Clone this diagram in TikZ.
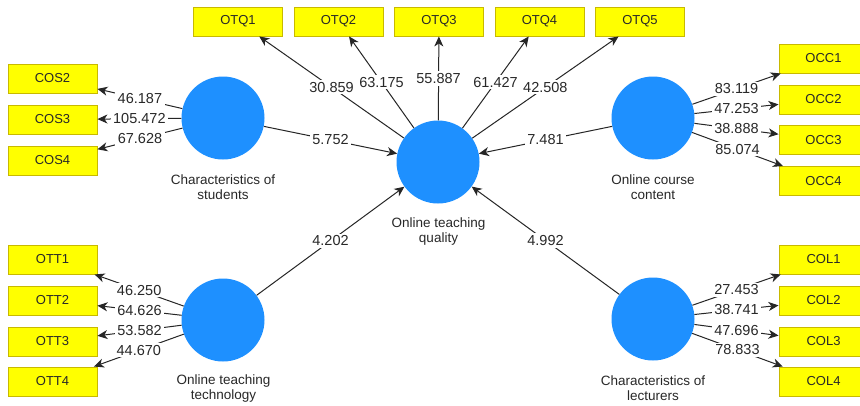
\documentclass[tikz,border=0pt]{standalone}
\usepackage{fontspec}
\setmainfont{Liberation Sans}
\usetikzlibrary{arrows.meta}
\definecolor{lvblue}{RGB}{30,144,255}
\definecolor{boxyellow}{RGB}{255,255,0}
\definecolor{boxedge}{RGB}{200,185,0}
\definecolor{txt}{RGB}{40,40,40}
\begin{document}
\begin{tikzpicture}[x=1pt,y=-1pt,
 latent/.style={circle,fill=lvblue,minimum size=83pt,inner sep=0pt},
 indic/.style={rectangle,fill=boxyellow,draw=boxedge,line width=0.9pt,minimum width=89pt,minimum height=29pt,inner sep=0pt,font=\fontsize{13}{15}\selectfont,text=txt},
 lvcap/.style={align=center,font=\fontsize{13.5}{15}\selectfont,text=txt},
 conn/.style={draw=black!85,line width=1pt,-{Stealth[length=10pt,width=9pt,inset=3pt]}},
 val/.style={fill=white,inner xsep=2.5pt,inner ysep=2pt,font=\fontsize{14.5}{16}\selectfont,text=txt}]
\useasboundingbox (0,0) rectangle (860,405);
\clip (0,0) rectangle (860,405);
\fill[white] (0,0) rectangle (860,405);

% latent variables
\node[latent] (cos) at (223,118) {};
\node[latent] (otq) at (438,162) {};
\node[latent] (occ) at (653,118) {};
\node[latent] (ott) at (223,320) {};
\node[latent] (col) at (653,319) {};

% captions
\node[lvcap] (cosc) at (223,187.5) {Characteristics of\\students};
\node[lvcap] (otqc) at (438.5,231.5) {Online teaching\\quality};
\node[lvcap] (occc) at (653,187.5) {Online course\\content};
\node[lvcap] (ottc) at (223.5,388.5) {Online teaching\\technology};
\node[lvcap] (colc) at (653,388.5) {Characteristics of\\lecturers};

% indicators
\node[indic] (cos2) at (52.5,78.5) {COS2};
\node[indic] (cos3) at (52.5,119.5) {COS3};
\node[indic] (cos4) at (52.5,160.5) {COS4};

\node[indic] (ott1) at (52.5,259.5) {OTT1};
\node[indic] (ott2) at (52.5,300.5) {OTT2};
\node[indic] (ott3) at (52.5,341.5) {OTT3};
\node[indic] (ott4) at (52.5,381.5) {OTT4};

\node[indic] (otq1) at (238,21.5) {OTQ1};
\node[indic] (otq2) at (338.5,21.5) {OTQ2};
\node[indic] (otq3) at (439,21.5) {OTQ3};
\node[indic] (otq4) at (539.5,21.5) {OTQ4};
\node[indic] (otq5) at (640,21.5) {OTQ5};

\node[indic] (occ1) at (823.5,58.5) {OCC1};
\node[indic] (occ2) at (823.5,99.5) {OCC2};
\node[indic] (occ3) at (823.5,140) {OCC3};
\node[indic] (occ4) at (823.5,181) {OCC4};

\node[indic] (col1) at (823.5,259.5) {COL1};
\node[indic] (col2) at (823.5,300.5) {COL2};
\node[indic] (col3) at (823.5,341.5) {COL3};
\node[indic] (col4) at (823.5,381.5) {COL4};

% outer loadings
\draw[conn] (cos) -- node[val]{46.187} (cos2);
\draw[conn] (cos) -- node[val]{105.472} (cos3);
\draw[conn] (cos) -- node[val]{67.628} (cos4);

\draw[conn] (ott) -- node[val]{46.250} (ott1);
\draw[conn] (ott) -- node[val]{64.626} (ott2);
\draw[conn] (ott) -- node[val]{53.582} (ott3);
\draw[conn] (ott) -- node[val]{44.670} (ott4);

\draw[conn] (otq) -- node[val]{30.859} (otq1);
\draw[conn] (otq) -- node[val]{63.175} (otq2);
\draw[conn] (otq) -- node[val]{55.887} (otq3);
\draw[conn] (otq) -- node[val]{61.427} (otq4);
\draw[conn] (otq) -- node[val]{42.508} (otq5);

\draw[conn] (occ) -- node[val]{83.119} (occ1);
\draw[conn] (occ) -- node[val]{47.253} (occ2);
\draw[conn] (occ) -- node[val]{38.888} (occ3);
\draw[conn] (occ) -- node[val]{85.074} (occ4);

\draw[conn] (col) -- node[val]{27.453} (col1);
\draw[conn] (col) -- node[val]{38.741} (col2);
\draw[conn] (col) -- node[val]{47.696} (col3);
\draw[conn] (col) -- node[val]{78.833} (col4);

% inner model
\draw[conn] (cos) -- node[val]{5.752} (otq);
\draw[conn] (occ) -- node[val]{7.481} (otq);
\draw[conn] (ott) -- node[val]{4.202} (otq);
\draw[conn] (col) -- node[val]{4.992} (otq);
\end{tikzpicture}
\end{document}
